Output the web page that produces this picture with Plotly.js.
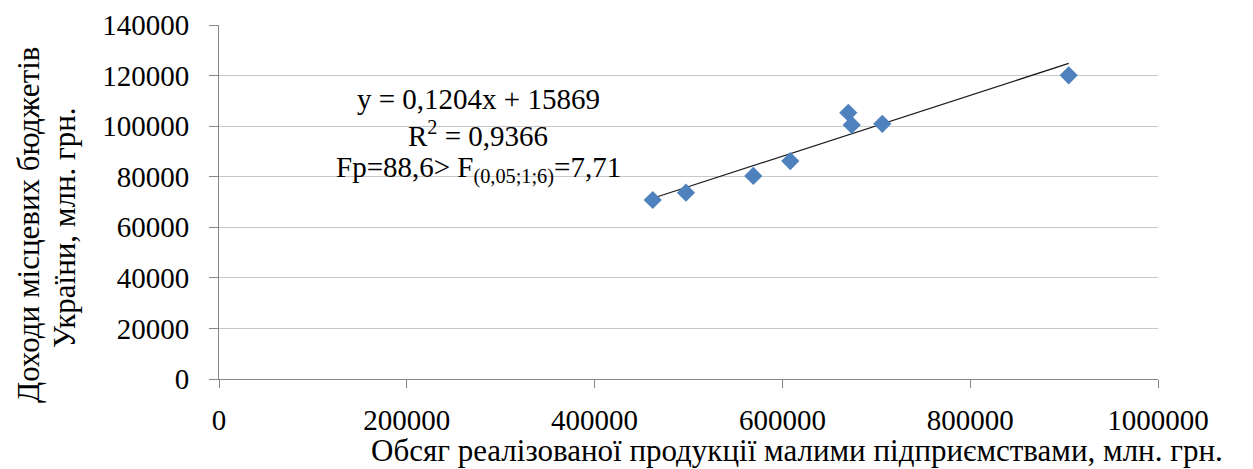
<!DOCTYPE html>
<html>
<head>
<meta charset="utf-8">
<script src="https://cdn.plot.ly/plotly-3.0.1.min.js"></script>
<style>html,body{margin:0;padding:0;background:#fff;}#chart{width:1253px;height:469px;}</style>
</head>
<body>
<div id="chart"></div>
<script>
// Data
const salesSmallEnterprises = [461900, 497300, 569000, 608400, 670200, 673800, 706400, 904900];
const localBudgetRevenue   = [70800, 73700, 80300, 86200, 105300, 100500, 100900, 120100];
const trendSlope = 0.1204;
const trendIntercept = 15869;
const xTickValues = [0, 200000, 400000, 600000, 800000, 1000000];
const yTickValues = [0, 20000, 40000, 60000, 80000, 100000, 120000, 140000];
const xTitle = "Обсяг реалізованої продукції малими підприємствами, млн. грн.";
const yTitleLine1 = "Доходи місцевих бюджетів";
const yTitleLine2 = "України, млн. грн.";
const equationLines = [
  "y = 0,1204x + 15869",
  "R<sup>2</sup> = 0,9366",
  "Fp=88,6> F<sub>(0,05;1;6)</sub>=7,71"
];

const xMin = Math.min(...salesSmallEnterprises);
const xMax = Math.max(...salesSmallEnterprises);
const trendX = [xMin, xMax];
const trendY = trendX.map(v => trendSlope * v + trendIntercept);

const font = "Liberation Serif";
const PL = 219, PT = 25, PW = 939, PH = 354;
const px = v => (v - PL) / PW;
const py = v => (PT + PH - v) / PH;

const traces = [
  {
    x: trendX, y: trendY, type: "scatter", mode: "lines",
    line: {color: "#1a1a1a", width: 1.3}, hoverinfo: "skip", showlegend: false
  },
  {
    x: salesSmallEnterprises, y: localBudgetRevenue, type: "scatter", mode: "markers",
    marker: {symbol: "diamond", size: 14, color: "#4F81BD"}, showlegend: false
  }
];

const eqY = [99, 134, 169];
const annotations = equationLines.map((t, i) => ({
  xref: "paper", yref: "paper", x: px(478), y: py(eqY[i]), xanchor: "center", yanchor: "middle",
  text: t, showarrow: false, font: {family: font, size: 29, color: "#000"}
}));
annotations.push(
  {
    xref: "paper", yref: "paper", x: px(797), y: py(451),
    xanchor: "center", yanchor: "middle", text: xTitle, showarrow: false,
    font: {family: font, size: 31, color: "#000"}
  },
  {
    xref: "paper", yref: "paper", x: px(28), y: py(225),
    xanchor: "center", yanchor: "middle", text: yTitleLine1, textangle: -90, showarrow: false,
    font: {family: font, size: 31, color: "#000"}
  },
  {
    xref: "paper", yref: "paper", x: px(64), y: py(228),
    xanchor: "center", yanchor: "middle", text: yTitleLine2, textangle: -90, showarrow: false,
    font: {family: font, size: 31, color: "#000"}
  }
);

const layout = {
  width: 1253, height: 469,
  margin: {l: PL, r: 1253 - PL - PW, t: PT, b: 469 - PT - PH},
  paper_bgcolor: "#fff", plot_bgcolor: "#fff",
  showlegend: false,
  font: {family: font, color: "#000", size: 29},
  xaxis: {
    range: [0, 1000000], tickvals: xTickValues, ticktext: xTickValues.map(String),
    showgrid: false, zeroline: false, showline: true, linecolor: "#868686", linewidth: 1,
    ticks: "outside", ticklen: 8, tickcolor: "#868686",
    ticklabelstandoff: 7,
    tickfont: {family: font, size: 29, color: "#000"}
  },
  yaxis: {
    range: [0, 140000], tickvals: yTickValues, ticktext: yTickValues.map(String),
    showgrid: true, gridcolor: "#C8C8C8", gridwidth: 1,
    zeroline: false, showline: true, linecolor: "#868686", linewidth: 1,
    ticks: "outside", ticklen: 9, tickcolor: "#868686",
    ticklabelstandoff: 14,
    tickfont: {family: font, size: 29, color: "#000"}
  },
  annotations: annotations
};

Plotly.newPlot("chart", traces, layout, {staticPlot: true, displayModeBar: false});
</script>
</body>
</html>
